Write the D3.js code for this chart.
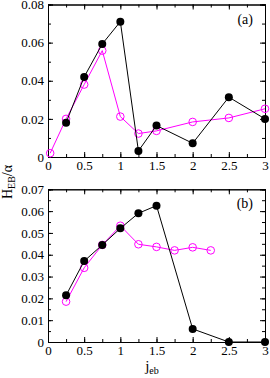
<!DOCTYPE html>
<html><head><meta charset="utf-8">
<script src="https://cdn.jsdelivr.net/npm/d3@7"></script>
<style>body{margin:0;background:#fff}</style>
</head><body>
<svg id="c" width="270" height="378"></svg>
<script>
// Panel (a)
const aBlackX = [0.25, 0.5, 0.75, 1, 1.25, 1.5, 2, 2.5, 3];
const aBlackY = [0.018, 0.042, 0.0593, 0.071, 0.0032, 0.0165, 0.0072, 0.0314, 0.020];
const aMagX = [0.03, 0.25, 0.5, 0.75, 1, 1.25, 1.5, 2, 2.5, 3];
const aMagY = [0.002, 0.020, 0.038, 0.0558, 0.0212, 0.0123, 0.0137, 0.0184, 0.0205, 0.0253];
// Panel (b)
const bBlackX = [0.25, 0.5, 0.75, 1, 1.25, 1.5, 2, 2.5, 3];
const bBlackY = [0.0214, 0.0371, 0.0445, 0.0521, 0.059, 0.0625, 0.006, 0.0, 0.0];
const bMagX = [0.25, 0.5, 0.75, 1, 1.25, 1.5, 1.75, 2, 2.25];
const bMagY = [0.0185, 0.034, 0.0445, 0.0533, 0.0448, 0.0436, 0.042, 0.0434, 0.042];
const xTicks = [0, 0.5, 1, 1.5, 2, 2.5, 3];
const aYTicks = [0, 0.02, 0.04, 0.06, 0.08];
const bYTicks = [0, 0.01, 0.02, 0.03, 0.04, 0.05, 0.06, 0.07];

const FONT = '"Liberation Serif"';
const svg = d3.select("#c");
const L = 48, R = 265;
const x = d3.scaleLinear().domain([0, 3]).range([L, R]);

function panel(top, bottom, ymax, yTicks, yMinorStep, label, bx, by, mx, my, fmt) {
  const y = d3.scaleLinear().domain([0, ymax]).range([bottom, top]);
  const g = svg.append("g");
  const xMinor = d3.range(0, 3.001, 0.25);
  const yMinor = d3.range(0, ymax + 1e-9, yMinorStep);
  const axB = d3.axisBottom(x).tickValues(xTicks).tickSize(-5).tickPadding(4).tickFormat(d3.format("~g"));
  const axT = d3.axisTop(x).tickValues(xTicks).tickSize(-5).tickFormat("");
  const axL = d3.axisLeft(y).tickValues(yTicks).tickSize(-5).tickPadding(4).tickFormat(fmt);
  const axR = d3.axisRight(y).tickValues(yTicks).tickSize(-5).tickFormat("");
  const mB = d3.axisBottom(x).tickValues(xMinor).tickSize(-3).tickFormat("");
  const mT = d3.axisTop(x).tickValues(xMinor).tickSize(-3).tickFormat("");
  const mL = d3.axisLeft(y).tickValues(yMinor).tickSize(-3).tickFormat("");
  const mR = d3.axisRight(y).tickValues(yMinor).tickSize(-3).tickFormat("");
  const gb = g.append("g").attr("transform", `translate(0,${bottom})`).call(axB);
  g.append("g").attr("transform", `translate(0,${bottom})`).call(mB);
  g.append("g").attr("transform", `translate(0,${top})`).call(axT);
  g.append("g").attr("transform", `translate(0,${top})`).call(mT);
  const gl = g.append("g").attr("transform", `translate(${L},0)`).call(axL);
  g.append("g").attr("transform", `translate(${L},0)`).call(mL);
  g.append("g").attr("transform", `translate(${R},0)`).call(axR);
  g.append("g").attr("transform", `translate(${R},0)`).call(mR);
  g.selectAll(".domain").attr("stroke", "#000").attr("stroke-width", 1);
  g.selectAll(".tick line").attr("stroke", "#000");
  gb.selectAll("text").style("font-family", FONT).style("font-size", "13px").attr("fill", "#000");
  gl.selectAll("text").style("font-family", FONT).style("font-size", "13px").attr("fill", "#000");
  const line = d3.line().x(d => x(d[0])).y(d => y(d[1]));
  const md = mx.map((v, i) => [v, my[i]]);
  const bd = bx.map((v, i) => [v, by[i]]);
  g.append("path").datum(md).attr("d", line).attr("fill", "none").attr("stroke", "#ff00ff").attr("stroke-width", 1);
  g.selectAll(".m").data(md).enter().append("circle").attr("cx", d => x(d[0])).attr("cy", d => y(d[1]))
    .attr("r", 3.8).attr("fill", "none").attr("stroke", "#ff00ff").attr("stroke-width", 1);
  g.append("path").datum(bd).attr("d", line).attr("fill", "none").attr("stroke", "#000").attr("stroke-width", 1);
  g.selectAll(".b").data(bd).enter().append("circle").attr("cx", d => x(d[0])).attr("cy", d => y(d[1]))
    .attr("r", 4).attr("fill", "#000");
  g.append("text").attr("x", 253).attr("y", top + 19).attr("text-anchor", "end")
    .style("font-family", FONT).style("font-size", "14px").text(label);
}

const fmtA = d => d === 0 ? "0" : d3.format(".2f")(d);
panel(4.5, 157, 0.08, aYTicks, 0.01, "(a)", aBlackX, aBlackY, aMagX, aMagY, fmtA);
panel(189.3, 342, 0.07, bYTicks, 0.005, "(b)", bBlackX, bBlackY, bMagX, bMagY, fmtA);

const yl = svg.append("text").attr("transform", "translate(12,182) rotate(-90)").attr("text-anchor", "middle")
  .style("font-family", FONT).style("font-size", "14px");
yl.append("tspan").text("H");
yl.append("tspan").style("font-size", "10px").attr("dy", 3).text("EB");
yl.append("tspan").attr("dy", -3).text("/α");
const xl = svg.append("text").attr("x", 152).attr("y", 371).attr("text-anchor", "middle")
  .style("font-family", FONT).style("font-size", "15px");
xl.append("tspan").text("j");
xl.append("tspan").style("font-size", "10px").attr("dy", 3).text("eb");
</script>
</body></html>
